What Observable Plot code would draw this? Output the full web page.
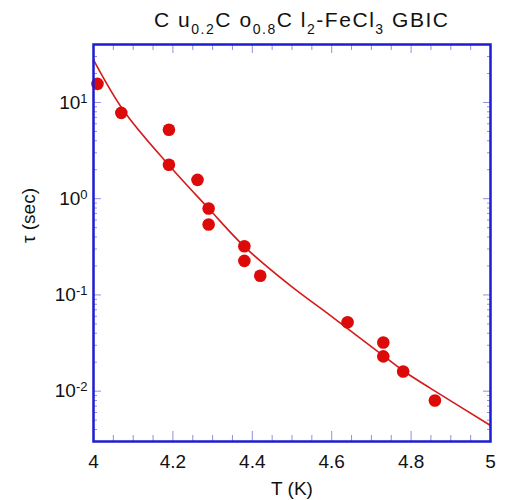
<!DOCTYPE html>
<html><head><meta charset="utf-8">
<script src="https://cdn.jsdelivr.net/npm/d3@7"></script>
<script src="https://cdn.jsdelivr.net/npm/@observablehq/plot@0.6"></script>
<style>
body{margin:0;background:#fff}
#chart svg{font-family:"Liberation Sans",Arial,Helvetica,sans-serif;overflow:visible}
</style>
</head><body><div id="chart"></div>
<script>
// measured points
const tempK  = [4.01, 4.07, 4.19, 4.19, 4.262, 4.29, 4.29, 4.38, 4.38, 4.42, 4.64, 4.73, 4.73, 4.78, 4.86];
const tauSec = [15.6, 7.8, 5.2, 2.25, 1.57, 0.79, 0.54, 0.32, 0.226, 0.158, 0.052, 0.032, 0.023, 0.016, 0.008];
// fit curve
const fitT   = [4.0, 4.076, 4.189, 4.29, 4.38, 4.496, 4.597, 4.723, 4.781, 4.849, 5.0];
const fitTau = [27.7, 8.2, 2.25, 0.79, 0.318, 0.125, 0.061, 0.0246, 0.0162, 0.0107, 0.0044];

const xMajorTicks = [4, 4.2, 4.4, 4.6, 4.8, 5];
const xTickLabels = ["4", "4.2", "4.4", "4.6", "4.8", "5"];
const xMinorTicks = [4.05, 4.1, 4.15, 4.25, 4.3, 4.35, 4.45, 4.5, 4.55, 4.65, 4.7, 4.75, 4.85, 4.9, 4.95];
const yMajorTicks = [0.01, 0.1, 1, 10];
const yTickLabels = ["10^-2", "10^-1", "10^0", "10^1"];
const yMinorTicks = [0.003, 0.004, 0.005, 0.006, 0.007, 0.008, 0.009,
                     0.02, 0.03, 0.04, 0.05, 0.06, 0.07, 0.08, 0.09,
                     0.2, 0.3, 0.4, 0.5, 0.6, 0.7, 0.8, 0.9,
                     2, 3, 4, 5, 6, 7, 8, 9, 20, 30];
const titleParts = [["C u", false], ["0.2", true], ["C o", false], ["0.8", true], ["C l", false], ["2", true], ["-FeCl", false], ["3", true], [" GBIC", false]];
const xTitle = "T (K)";
const yTitle = "τ (sec)";

const points = tempK.map((t, i) => ({t, tau: tauSec[i]}));
const fit = fitT.map((t, i) => ({t, tau: fitTau[i]}));
const xLab = xMajorTicks.map((v, i) => ({v, s: xTickLabels[i]}));
const yLab = yMajorTicks.map((v, i) => ({v, s: yTickLabels[i]}));

const frameColor = "#1c1cd2";
const tickColor = "#8f8fe0";
const red = "#dd0a0a";
const ink = "#111";

const plot = Plot.plot({
  width: 505,
  height: 500,
  marginLeft: 93,
  marginRight: 15,
  marginTop: 44,
  marginBottom: 59,
  x: {domain: [4, 5]},
  y: {type: "log", domain: [0.003, 40]},
  style: {fontSize: "19px", color: ink},
  marks: [
    Plot.axisX(xMinorTicks, {anchor: "bottom", tickSize: -6, tickFormat: () => "", stroke: tickColor, label: null}),
    Plot.axisX(xMinorTicks, {anchor: "top", tickSize: -5, tickFormat: () => "", stroke: tickColor, label: null}),
    Plot.axisX(xMajorTicks, {anchor: "top", tickSize: -8, tickFormat: () => "", stroke: tickColor, label: null}),
    Plot.axisX(xMajorTicks, {anchor: "bottom", tickSize: -10, tickFormat: () => "", stroke: tickColor, label: null}),
    Plot.axisY(yMinorTicks, {anchor: "left", tickSize: -4, tickFormat: () => "", stroke: tickColor, label: null}),
    Plot.axisY(yMinorTicks, {anchor: "right", tickSize: -4, tickFormat: () => "", stroke: tickColor, label: null}),
    Plot.axisY(yMajorTicks, {anchor: "right", tickSize: -8, tickFormat: () => "", stroke: tickColor, label: null}),
    Plot.axisY(yMajorTicks, {anchor: "left", tickSize: -8, tickFormat: () => "", stroke: tickColor, label: null}),
    Plot.text(xLab, {x: "v", text: "s", frameAnchor: "bottom", lineAnchor: "middle", dy: 20, fontSize: 19, fill: ink}),
    Plot.text(yLab, {y: "v", text: "s", frameAnchor: "left", textAnchor: "end", lineAnchor: "middle", dx: -6, fontSize: 19, fill: ink}),
    Plot.line(fit, {x: "t", y: "tau", stroke: "#d41a1a", strokeWidth: 1.6, curve: "catmull-rom"}),
    Plot.dot(points, {x: "t", y: "tau", r: 6.3, fill: red, stroke: "none"}),
    Plot.frame({stroke: frameColor, strokeWidth: 2.5}),
    Plot.text([xTitle], {frameAnchor: "bottom", lineAnchor: "middle", dy: 47, fontSize: 19, fill: ink}),
    Plot.text([yTitle], {frameAnchor: "left", dx: -65, rotate: -90, fontSize: 19, fill: ink})
  ]
});
document.getElementById("chart").appendChild(plot);

// superscript exponents on y tick labels
d3.select(plot).selectAll("text").each(function () {
  if (this.querySelector("tspan")) return;
  const m = /^10\^(-?\d)$/.exec(this.textContent);
  if (m) {
    const el = d3.select(this);
    el.text("10");
    el.append("tspan").attr("dy", "-0.45em").attr("font-size", "13px").text(m[1]);
  }
});

// title with subscripts
const title = d3.select(plot).append("text")
  .attr("x", 154).attr("y", 27)
  .attr("text-anchor", "start")
  .attr("font-size", 21)
  .attr("fill", ink)
  .attr("textLength", 294)
  .attr("lengthAdjust", "spacing");
titleParts.forEach(([txt, sub], i) => {
  const prevSub = i > 0 && titleParts[i - 1][1];
  const ts = title.append("tspan").text(txt);
  if (sub) ts.attr("font-size", 14).attr("dy", 7);
  else if (prevSub) ts.attr("dy", -7);
});
</script>
</body></html>
